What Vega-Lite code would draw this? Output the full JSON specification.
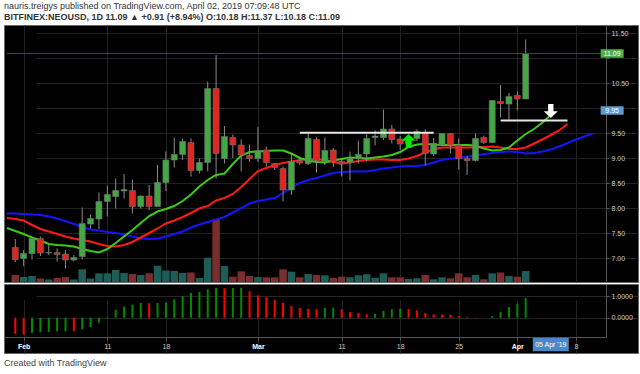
{
  "$schema": "https://vega.github.io/schema/vega-lite/v6.json",
  "background": "white",
  "padding": {"left": 3, "right": 3, "top": 1, "bottom": 0},
  "spacing": 0,
  "title": {
    "text": "nauris.treigys published on TradingView.com, April 02, 2019 07:09:48 UTC",
    "subtitle": "BITFINEX:NEOUSD, 1D  11.09 ▲ +0.91 (+8.94%) O:10.18 H:11.37 L:10.18 C:11.09",
    "anchor": "start",
    "frame": "group",
    "font": "Liberation Sans",
    "fontSize": 9,
    "fontWeight": "normal",
    "color": "#333333",
    "subtitleFont": "Liberation Sans",
    "subtitleFontSize": 9,
    "subtitleFontWeight": "bold",
    "subtitleColor": "#333333",
    "subtitlePadding": 2,
    "offset": 3
  },
  "config": {
    "view": {"fill": "black", "stroke": "#666666"},
    "axis": {"labelFont": "Liberation Sans", "labelOverlap": false}
  },
  "datasets": {
    "candles": [
      {"date": "2019-01-31", "open": 7.21, "high": 7.38, "low": 6.92, "close": 6.97, "volume": 140, "ao": -0.74},
      {"date": "2019-02-01", "open": 6.99, "high": 7.16, "low": 6.84, "close": 7.09, "volume": 100, "ao": -0.78},
      {"date": "2019-02-02", "open": 7.09, "high": 7.41, "low": 6.97, "close": 7.39, "volume": 120, "ao": -0.70},
      {"date": "2019-02-03", "open": 7.39, "high": 7.43, "low": 7.04, "close": 7.10, "volume": 70, "ao": -0.66},
      {"date": "2019-02-04", "open": 7.10, "high": 7.26, "low": 7.06, "close": 7.11, "volume": 50, "ao": -0.655},
      {"date": "2019-02-05", "open": 7.11, "high": 7.19, "low": 6.93, "close": 7.07, "volume": 80, "ao": -0.635},
      {"date": "2019-02-06", "open": 7.08, "high": 7.16, "low": 6.79, "close": 6.96, "volume": 100, "ao": -0.62},
      {"date": "2019-02-07", "open": 6.96, "high": 7.06, "low": 6.93, "close": 7.01, "volume": 50, "ao": -0.63},
      {"date": "2019-02-08", "open": 7.03, "high": 8.01, "low": 6.97, "close": 7.69, "volume": 254, "ao": -0.54},
      {"date": "2019-02-09", "open": 7.68, "high": 7.87, "low": 7.59, "close": 7.79, "volume": 70, "ao": -0.43},
      {"date": "2019-02-10", "open": 7.78, "high": 8.31, "low": 7.58, "close": 8.13, "volume": 174, "ao": -0.23},
      {"date": "2019-02-11", "open": 8.13, "high": 8.45, "low": 7.83, "close": 8.27, "volume": 174, "ao": 0.03},
      {"date": "2019-02-12", "open": 8.23, "high": 8.59, "low": 7.99, "close": 8.35, "volume": 240, "ao": 0.37},
      {"date": "2019-02-13", "open": 8.34, "high": 8.68, "low": 8.19, "close": 8.37, "volume": 180, "ao": 0.52},
      {"date": "2019-02-14", "open": 8.35, "high": 8.57, "low": 7.89, "close": 8.03, "volume": 160, "ao": 0.60},
      {"date": "2019-02-15", "open": 8.03, "high": 8.25, "low": 7.99, "close": 8.24, "volume": 140, "ao": 0.68},
      {"date": "2019-02-16", "open": 8.24, "high": 8.46, "low": 7.96, "close": 8.03, "volume": 174, "ao": 0.67},
      {"date": "2019-02-17", "open": 8.03, "high": 8.86, "low": 8.03, "close": 8.51, "volume": 326, "ao": 0.68},
      {"date": "2019-02-18", "open": 8.51, "high": 9.13, "low": 8.34, "close": 8.96, "volume": 230, "ao": 0.69},
      {"date": "2019-02-19", "open": 8.96, "high": 9.41, "low": 8.81, "close": 9.07, "volume": 220, "ao": 0.85},
      {"date": "2019-02-20", "open": 9.07, "high": 9.39, "low": 8.96, "close": 9.33, "volume": 180, "ao": 1.00},
      {"date": "2019-02-21", "open": 9.31, "high": 9.39, "low": 8.63, "close": 8.75, "volume": 190, "ao": 1.14},
      {"date": "2019-02-22", "open": 8.75, "high": 8.99, "low": 8.69, "close": 8.91, "volume": 80, "ao": 1.18},
      {"date": "2019-02-23", "open": 8.91, "high": 10.53, "low": 8.73, "close": 10.39, "volume": 486, "ao": 1.31},
      {"date": "2019-02-24", "open": 10.39, "high": 11.06, "low": 8.59, "close": 9.09, "volume": 1254, "ao": 1.38},
      {"date": "2019-02-25", "open": 8.99, "high": 9.64, "low": 8.89, "close": 9.43, "volume": 320, "ao": 1.36},
      {"date": "2019-02-26", "open": 9.41, "high": 9.47, "low": 9.00, "close": 9.26, "volume": 106, "ao": 1.37},
      {"date": "2019-02-27", "open": 9.26, "high": 9.37, "low": 8.73, "close": 9.06, "volume": 214, "ao": 1.38},
      {"date": "2019-02-28", "open": 9.05, "high": 9.27, "low": 8.92, "close": 8.99, "volume": 120, "ao": 1.22},
      {"date": "2019-03-01", "open": 8.99, "high": 9.62, "low": 8.92, "close": 9.15, "volume": 100, "ao": 1.03},
      {"date": "2019-03-02", "open": 9.16, "high": 9.23, "low": 8.83, "close": 8.91, "volume": 94, "ao": 0.95},
      {"date": "2019-03-03", "open": 8.89, "high": 8.90, "low": 8.76, "close": 8.81, "volume": 94, "ao": 0.83},
      {"date": "2019-03-04", "open": 8.79, "high": 8.83, "low": 8.13, "close": 8.36, "volume": 254, "ao": 0.69},
      {"date": "2019-03-05", "open": 8.36, "high": 9.09, "low": 8.26, "close": 8.93, "volume": 206, "ao": 0.54},
      {"date": "2019-03-06", "open": 8.95, "high": 9.03, "low": 8.86, "close": 8.90, "volume": 94, "ao": 0.45},
      {"date": "2019-03-07", "open": 8.89, "high": 9.49, "low": 8.86, "close": 9.39, "volume": 160, "ao": 0.40},
      {"date": "2019-03-08", "open": 9.37, "high": 9.41, "low": 8.71, "close": 8.95, "volume": 140, "ao": 0.39},
      {"date": "2019-03-09", "open": 8.93, "high": 9.41, "low": 8.86, "close": 9.15, "volume": 134, "ao": 0.45},
      {"date": "2019-03-10", "open": 9.16, "high": 9.20, "low": 8.82, "close": 8.93, "volume": 84, "ao": 0.46},
      {"date": "2019-03-11", "open": 8.93, "high": 8.96, "low": 8.63, "close": 8.88, "volume": 106, "ao": 0.39},
      {"date": "2019-03-12", "open": 8.91, "high": 9.13, "low": 8.55, "close": 8.99, "volume": 94, "ao": 0.26},
      {"date": "2019-03-13", "open": 8.99, "high": 9.35, "low": 8.89, "close": 9.07, "volume": 134, "ao": 0.22},
      {"date": "2019-03-14", "open": 9.08, "high": 9.47, "low": 8.93, "close": 9.39, "volume": 156, "ao": 0.16},
      {"date": "2019-03-15", "open": 9.41, "high": 9.55, "low": 9.25, "close": 9.44, "volume": 84, "ao": 0.18},
      {"date": "2019-03-16", "open": 9.41, "high": 9.97, "low": 9.36, "close": 9.58, "volume": 174, "ao": 0.31},
      {"date": "2019-03-17", "open": 9.58, "high": 9.66, "low": 9.29, "close": 9.37, "volume": 94, "ao": 0.39},
      {"date": "2019-03-18", "open": 9.38, "high": 9.44, "low": 9.16, "close": 9.28, "volume": 94, "ao": 0.41},
      {"date": "2019-03-19", "open": 9.28, "high": 9.45, "low": 9.20, "close": 9.36, "volume": 60, "ao": 0.39},
      {"date": "2019-03-20", "open": 9.39, "high": 9.57, "low": 9.34, "close": 9.53, "volume": 74, "ao": 0.34},
      {"date": "2019-03-21", "open": 9.49, "high": 9.57, "low": 8.86, "close": 9.09, "volume": 140, "ao": 0.22},
      {"date": "2019-03-22", "open": 9.08, "high": 9.40, "low": 9.04, "close": 9.29, "volume": 54, "ao": 0.16},
      {"date": "2019-03-23", "open": 9.26, "high": 9.50, "low": 9.24, "close": 9.49, "volume": 94, "ao": 0.14},
      {"date": "2019-03-24", "open": 9.49, "high": 9.50, "low": 9.09, "close": 9.26, "volume": 74, "ao": 0.13},
      {"date": "2019-03-25", "open": 9.26, "high": 9.39, "low": 8.77, "close": 8.99, "volume": 174, "ao": 0.08},
      {"date": "2019-03-26", "open": 8.99, "high": 9.04, "low": 8.66, "close": 8.95, "volume": 94, "ao": 0.03},
      {"date": "2019-03-27", "open": 8.95, "high": 9.49, "low": 8.93, "close": 9.39, "volume": 140, "ao": 0.01},
      {"date": "2019-03-28", "open": 9.41, "high": 9.45, "low": 9.28, "close": 9.31, "volume": 54, "ao": 0.0},
      {"date": "2019-03-29", "open": 9.31, "high": 10.16, "low": 9.30, "close": 10.15, "volume": 174, "ao": 0.08},
      {"date": "2019-03-30", "open": 10.13, "high": 10.46, "low": 9.81, "close": 10.09, "volume": 190, "ao": 0.26},
      {"date": "2019-03-31", "open": 10.08, "high": 10.30, "low": 9.76, "close": 10.23, "volume": 120, "ao": 0.49},
      {"date": "2019-04-01", "open": 10.25, "high": 10.33, "low": 9.95, "close": 10.18, "volume": 106, "ao": 0.65},
      {"date": "2019-04-02", "open": 10.18, "high": 11.37, "low": 10.18, "close": 11.09, "volume": 220, "ao": 0.91}
    ],
    "alligator": [
      {"date": "2019-01-30", "jaw": 7.89, "teeth": 7.80, "lips": 7.60},
      {"date": "2019-01-31", "jaw": 7.89, "teeth": 7.78, "lips": 7.54},
      {"date": "2019-02-01", "jaw": 7.88, "teeth": 7.75, "lips": 7.48},
      {"date": "2019-02-02", "jaw": 7.87, "teeth": 7.66, "lips": 7.41},
      {"date": "2019-02-03", "jaw": 7.86, "teeth": 7.58, "lips": 7.35},
      {"date": "2019-02-04", "jaw": 7.83, "teeth": 7.53, "lips": 7.28},
      {"date": "2019-02-05", "jaw": 7.79, "teeth": 7.48, "lips": 7.26},
      {"date": "2019-02-06", "jaw": 7.74, "teeth": 7.43, "lips": 7.25},
      {"date": "2019-02-07", "jaw": 7.68, "teeth": 7.39, "lips": 7.23},
      {"date": "2019-02-08", "jaw": 7.62, "teeth": 7.36, "lips": 7.18},
      {"date": "2019-02-09", "jaw": 7.57, "teeth": 7.33, "lips": 7.14},
      {"date": "2019-02-10", "jaw": 7.55, "teeth": 7.28, "lips": 7.11},
      {"date": "2019-02-11", "jaw": 7.52, "teeth": 7.24, "lips": 7.18},
      {"date": "2019-02-12", "jaw": 7.50, "teeth": 7.23, "lips": 7.30},
      {"date": "2019-02-13", "jaw": 7.47, "teeth": 7.26, "lips": 7.43},
      {"date": "2019-02-14", "jaw": 7.43, "teeth": 7.32, "lips": 7.56},
      {"date": "2019-02-15", "jaw": 7.39, "teeth": 7.41, "lips": 7.70},
      {"date": "2019-02-16", "jaw": 7.38, "teeth": 7.50, "lips": 7.84},
      {"date": "2019-02-17", "jaw": 7.39, "teeth": 7.59, "lips": 7.93},
      {"date": "2019-02-18", "jaw": 7.43, "teeth": 7.69, "lips": 7.98},
      {"date": "2019-02-19", "jaw": 7.48, "teeth": 7.75, "lips": 8.04},
      {"date": "2019-02-20", "jaw": 7.53, "teeth": 7.82, "lips": 8.14},
      {"date": "2019-02-21", "jaw": 7.61, "teeth": 7.90, "lips": 8.27},
      {"date": "2019-02-22", "jaw": 7.67, "teeth": 7.99, "lips": 8.43},
      {"date": "2019-02-23", "jaw": 7.72, "teeth": 8.04, "lips": 8.56},
      {"date": "2019-02-24", "jaw": 7.77, "teeth": 8.15, "lips": 8.66},
      {"date": "2019-02-25", "jaw": 7.82, "teeth": 8.20, "lips": 8.69},
      {"date": "2019-02-26", "jaw": 7.91, "teeth": 8.28, "lips": 8.88},
      {"date": "2019-02-27", "jaw": 8.00, "teeth": 8.42, "lips": 9.05},
      {"date": "2019-02-28", "jaw": 8.09, "teeth": 8.58, "lips": 9.12},
      {"date": "2019-03-01", "jaw": 8.14, "teeth": 8.74, "lips": 9.13},
      {"date": "2019-03-02", "jaw": 8.17, "teeth": 8.80, "lips": 9.14},
      {"date": "2019-03-03", "jaw": 8.20, "teeth": 8.86, "lips": 9.15},
      {"date": "2019-03-04", "jaw": 8.30, "teeth": 8.90, "lips": 9.15},
      {"date": "2019-03-05", "jaw": 8.40, "teeth": 8.93, "lips": 9.09},
      {"date": "2019-03-06", "jaw": 8.50, "teeth": 8.96, "lips": 9.00},
      {"date": "2019-03-07", "jaw": 8.56, "teeth": 8.98, "lips": 8.95},
      {"date": "2019-03-08", "jaw": 8.60, "teeth": 8.97, "lips": 8.92},
      {"date": "2019-03-09", "jaw": 8.65, "teeth": 8.96, "lips": 8.91},
      {"date": "2019-03-10", "jaw": 8.70, "teeth": 8.92, "lips": 8.95},
      {"date": "2019-03-11", "jaw": 8.72, "teeth": 8.89, "lips": 8.98},
      {"date": "2019-03-12", "jaw": 8.73, "teeth": 8.91, "lips": 9.01},
      {"date": "2019-03-13", "jaw": 8.73, "teeth": 8.94, "lips": 9.00},
      {"date": "2019-03-14", "jaw": 8.73, "teeth": 8.96, "lips": 8.99},
      {"date": "2019-03-15", "jaw": 8.76, "teeth": 8.97, "lips": 9.01},
      {"date": "2019-03-16", "jaw": 8.79, "teeth": 8.97, "lips": 9.03},
      {"date": "2019-03-17", "jaw": 8.81, "teeth": 8.96, "lips": 9.06},
      {"date": "2019-03-18", "jaw": 8.83, "teeth": 8.96, "lips": 9.12},
      {"date": "2019-03-19", "jaw": 8.84, "teeth": 8.99, "lips": 9.22},
      {"date": "2019-03-20", "jaw": 8.84, "teeth": 9.04, "lips": 9.27},
      {"date": "2019-03-21", "jaw": 8.86, "teeth": 9.12, "lips": 9.28},
      {"date": "2019-03-22", "jaw": 8.91, "teeth": 9.17, "lips": 9.27},
      {"date": "2019-03-23", "jaw": 8.96, "teeth": 9.21, "lips": 9.26},
      {"date": "2019-03-24", "jaw": 8.99, "teeth": 9.21, "lips": 9.26},
      {"date": "2019-03-25", "jaw": 9.00, "teeth": 9.21, "lips": 9.26},
      {"date": "2019-03-26", "jaw": 9.03, "teeth": 9.21, "lips": 9.26},
      {"date": "2019-03-27", "jaw": 9.05, "teeth": 9.21, "lips": 9.25},
      {"date": "2019-03-28", "jaw": 9.08, "teeth": 9.22, "lips": 9.19},
      {"date": "2019-03-29", "jaw": 9.10, "teeth": 9.23, "lips": 9.15},
      {"date": "2019-03-30", "jaw": 9.12, "teeth": 9.21, "lips": 9.16},
      {"date": "2019-03-31", "jaw": 9.13, "teeth": 9.18, "lips": 9.21},
      {"date": "2019-04-01", "jaw": 9.12, "teeth": 9.18, "lips": 9.35},
      {"date": "2019-04-02", "jaw": 9.09, "teeth": 9.21, "lips": 9.48},
      {"date": "2019-04-03", "jaw": 9.10, "teeth": 9.29, "lips": 9.58},
      {"date": "2019-04-04", "jaw": 9.13, "teeth": 9.37, "lips": 9.71},
      {"date": "2019-04-05", "jaw": 9.17, "teeth": 9.46, "lips": 9.86},
      {"date": "2019-04-06", "jaw": 9.23, "teeth": 9.55, "lips": null},
      {"date": "2019-04-07", "jaw": 9.30, "teeth": 9.68, "lips": null},
      {"date": "2019-04-08", "jaw": 9.37, "teeth": null, "lips": null},
      {"date": "2019-04-09", "jaw": 9.43, "teeth": null, "lips": null},
      {"date": "2019-04-10", "jaw": 9.49, "teeth": null, "lips": null}
    ],
    "levels": [
      {"start": "2019-01-30", "end": "2019-04-11", "level": 11.09, "kind": "last"},
      {"start": "2019-03-06", "end": "2019-03-22", "level": 9.505, "kind": "resistance"},
      {"start": "2019-03-30", "end": "2019-04-07", "level": 9.75, "kind": "resistance"}
    ],
    "signals": [
      {"date": "2019-03-19", "price": 9.34, "signal": "buy"},
      {"date": "2019-04-05", "price": 9.94, "signal": "sell"}
    ],
    "tags": [
      {"price": 11.09, "label": "11.09", "kind": "last"},
      {"price": 9.95, "label": "9.95", "kind": "level"}
    ],
    "cursor": [
      {"date": "2019-04-05", "label": "05 Apr '19"}
    ]
  },
  "vconcat": [
    {
      "width": 634,
      "height": 257,
      "resolve": {"scale": {"y": "independent"}},
      "layer": [
        {
          "data": {"name": "candles"},
          "mark": {"type": "bar", "width": 7.5},
          "encoding": {
            "x": {"field": "date", "type": "temporal",
              "scale": {"type": "utc", "domain": [{"year": 2019, "month": 1, "date": 30, "hours": 6, "utc": true}, {"year": 2019, "month": 4, "date": 11, "utc": true}], "range": [0, 602]},
              "axis": {"values": [{"year": 2019, "month": 2, "date": 1, "utc": true}, {"year": 2019, "month": 2, "date": 11, "utc": true}, {"year": 2019, "month": 2, "date": 18, "utc": true}, {"year": 2019, "month": 3, "date": 1, "utc": true}, {"year": 2019, "month": 3, "date": 11, "utc": true}, {"year": 2019, "month": 3, "date": 18, "utc": true}, {"year": 2019, "month": 3, "date": 25, "utc": true}, {"year": 2019, "month": 4, "date": 1, "utc": true}, {"year": 2019, "month": 4, "date": 8, "utc": true}],
                "grid": true, "gridColor": "#222222", "labels": false, "ticks": false, "domain": false, "title": null}},
            "y": {"field": "volume", "type": "quantitative", "scale": {"domain": [0, 5140], "nice": false, "zero": true}, "axis": null},
            "y2": {"datum": 0},
            "color": {"condition": {"test": "datum.close >= datum.open", "value": "#1e5c57"}, "value": "#7b2e2e"}
          }
        },
        {
          "layer": [
            {
              "data": {"name": "alligator"},
              "mark": {"type": "line", "color": "#1414ff", "strokeWidth": 2, "clip": true},
              "encoding": {
                "x": {"field": "date", "type": "temporal", "scale": {"type": "utc", "domain": [{"year": 2019, "month": 1, "date": 30, "hours": 6, "utc": true}, {"year": 2019, "month": 4, "date": 11, "utc": true}], "range": [0, 602]}},
                "y": {"field": "jaw", "type": "quantitative", "scale": {"domain": [6.52, 11.66], "nice": false, "zero": false},
                  "axis": {"orient": "right", "offset": -32, "values": [7, 7.5, 8, 8.5, 9, 9.5, 10, 10.5, 11, 11.5], "labelExpr": "datum.value == 10 || datum.value == 11 ? '' : format(datum.value, '.2f')", "labelOverlap": false, "grid": true, "gridColor": "#222222", "domainColor": "#555555", "tickColor": "#555555", "tickSize": 3, "labelColor": "#cccccc", "labelFontSize": 7, "labelPadding": 2, "title": null}}
              }
            },
            {
              "data": {"name": "alligator"},
              "mark": {"type": "line", "color": "#ff1a1a", "strokeWidth": 2, "clip": true},
              "encoding": {
                "x": {"field": "date", "type": "temporal", "scale": {"type": "utc", "domain": [{"year": 2019, "month": 1, "date": 30, "hours": 6, "utc": true}, {"year": 2019, "month": 4, "date": 11, "utc": true}], "range": [0, 602]}},
                "y": {"field": "teeth", "type": "quantitative", "scale": {"domain": [6.52, 11.66], "nice": false, "zero": false},
                  "axis": {"orient": "right", "offset": -32, "values": [7, 7.5, 8, 8.5, 9, 9.5, 10, 10.5, 11, 11.5], "labelExpr": "datum.value == 10 || datum.value == 11 ? '' : format(datum.value, '.2f')", "labelOverlap": false, "grid": true, "gridColor": "#222222", "domainColor": "#555555", "tickColor": "#555555", "tickSize": 3, "labelColor": "#cccccc", "labelFontSize": 7, "labelPadding": 2, "title": null}}
              }
            },
            {
              "data": {"name": "alligator"},
              "mark": {"type": "line", "color": "#3ccc14", "strokeWidth": 2, "clip": true},
              "encoding": {
                "x": {"field": "date", "type": "temporal", "scale": {"type": "utc", "domain": [{"year": 2019, "month": 1, "date": 30, "hours": 6, "utc": true}, {"year": 2019, "month": 4, "date": 11, "utc": true}], "range": [0, 602]}},
                "y": {"field": "lips", "type": "quantitative", "scale": {"domain": [6.52, 11.66], "nice": false, "zero": false},
                  "axis": {"orient": "right", "offset": -32, "values": [7, 7.5, 8, 8.5, 9, 9.5, 10, 10.5, 11, 11.5], "labelExpr": "datum.value == 10 || datum.value == 11 ? '' : format(datum.value, '.2f')", "labelOverlap": false, "grid": true, "gridColor": "#222222", "domainColor": "#555555", "tickColor": "#555555", "tickSize": 3, "labelColor": "#cccccc", "labelFontSize": 7, "labelPadding": 2, "title": null}}
              }
            },
            {
              "data": {"name": "candles"},
              "mark": {"type": "rule", "color": "#8c8c8c", "strokeWidth": 1},
              "encoding": {
                "x": {"field": "date", "type": "temporal", "scale": {"type": "utc", "domain": [{"year": 2019, "month": 1, "date": 30, "hours": 6, "utc": true}, {"year": 2019, "month": 4, "date": 11, "utc": true}], "range": [0, 602]}},
                "y": {"field": "low", "type": "quantitative", "scale": {"domain": [6.52, 11.66], "nice": false, "zero": false},
                  "axis": {"orient": "right", "offset": -32, "values": [7, 7.5, 8, 8.5, 9, 9.5, 10, 10.5, 11, 11.5], "labelExpr": "datum.value == 10 || datum.value == 11 ? '' : format(datum.value, '.2f')", "labelOverlap": false, "grid": true, "gridColor": "#222222", "domainColor": "#555555", "tickColor": "#555555", "tickSize": 3, "labelColor": "#cccccc", "labelFontSize": 7, "labelPadding": 2, "title": null}},
                "y2": {"field": "high"}
              }
            },
            {
              "data": {"name": "candles"},
              "mark": {"type": "bar", "width": 6, "stroke": "#707070", "strokeWidth": 0.6},
              "encoding": {
                "x": {"field": "date", "type": "temporal", "scale": {"type": "utc", "domain": [{"year": 2019, "month": 1, "date": 30, "hours": 6, "utc": true}, {"year": 2019, "month": 4, "date": 11, "utc": true}], "range": [0, 602]}},
                "y": {"field": "open", "type": "quantitative", "scale": {"domain": [6.52, 11.66], "nice": false, "zero": false},
                  "axis": {"orient": "right", "offset": -32, "values": [7, 7.5, 8, 8.5, 9, 9.5, 10, 10.5, 11, 11.5], "labelExpr": "datum.value == 10 || datum.value == 11 ? '' : format(datum.value, '.2f')", "labelOverlap": false, "grid": true, "gridColor": "#222222", "domainColor": "#555555", "tickColor": "#555555", "tickSize": 3, "labelColor": "#cccccc", "labelFontSize": 7, "labelPadding": 2, "title": null}},
                "y2": {"field": "close"},
                "color": {"condition": {"test": "datum.close >= datum.open", "value": "#43a843"}, "value": "#e0261f"}
              }
            },
            {
              "data": {"name": "levels"},
              "mark": {"type": "rule", "clip": true},
              "encoding": {
                "x": {"field": "start", "type": "temporal", "scale": {"type": "utc", "domain": [{"year": 2019, "month": 1, "date": 30, "hours": 6, "utc": true}, {"year": 2019, "month": 4, "date": 11, "utc": true}], "range": [0, 602]}},
                "x2": {"field": "end"},
                "y": {"field": "level", "type": "quantitative", "scale": {"domain": [6.52, 11.66], "nice": false, "zero": false},
                  "axis": {"orient": "right", "offset": -32, "values": [7, 7.5, 8, 8.5, 9, 9.5, 10, 10.5, 11, 11.5], "labelExpr": "datum.value == 10 || datum.value == 11 ? '' : format(datum.value, '.2f')", "labelOverlap": false, "grid": true, "gridColor": "#222222", "domainColor": "#555555", "tickColor": "#555555", "tickSize": 3, "labelColor": "#cccccc", "labelFontSize": 7, "labelPadding": 2, "title": null}},
                "color": {"condition": {"test": "datum.kind == 'last'", "value": "#1f5a1f"}, "value": "#e6e6e6"},
                "strokeWidth": {"condition": {"test": "datum.kind == 'last'", "value": 1}, "value": 2}
              }
            },
            {
              "data": {"name": "signals"},
              "mark": {"type": "point", "filled": true, "size": 200, "strokeWidth": 0, "opacity": 1},
              "encoding": {
                "x": {"field": "date", "type": "temporal", "scale": {"type": "utc", "domain": [{"year": 2019, "month": 1, "date": 30, "hours": 6, "utc": true}, {"year": 2019, "month": 4, "date": 11, "utc": true}], "range": [0, 602]}},
                "y": {"field": "price", "type": "quantitative", "scale": {"domain": [6.52, 11.66], "nice": false, "zero": false},
                  "axis": {"orient": "right", "offset": -32, "values": [7, 7.5, 8, 8.5, 9, 9.5, 10, 10.5, 11, 11.5], "labelExpr": "datum.value == 10 || datum.value == 11 ? '' : format(datum.value, '.2f')", "labelOverlap": false, "grid": true, "gridColor": "#222222", "domainColor": "#555555", "tickColor": "#555555", "tickSize": 3, "labelColor": "#cccccc", "labelFontSize": 7, "labelPadding": 2, "title": null}},
                "shape": {"condition": {"test": "datum.signal == 'buy'", "value": "M0,-1L1,-0.05L0.38,-0.05L0.38,1L-0.38,1L-0.38,-0.05L-1,-0.05Z"}, "value": "M0,1L1,0.05L0.38,0.05L0.38,-1L-0.38,-1L-0.38,0.05L-1,0.05Z"},
                "color": {"condition": {"test": "datum.signal == 'buy'", "value": "#00e600"}, "value": "#ffffff"}
              }
            },
            {
              "data": {"name": "tags"},
              "mark": {"type": "point", "filled": true, "size": 529, "strokeWidth": 0, "opacity": 1, "shape": "M-1,-0.37L1,-0.37L1,0.37L-1,0.37Z"},
              "encoding": {
                "x": {"datum": {"year": 2019, "month": 4, "date": 12, "hours": 8, "utc": true}, "type": "temporal", "scale": {"type": "utc", "domain": [{"year": 2019, "month": 1, "date": 30, "hours": 6, "utc": true}, {"year": 2019, "month": 4, "date": 11, "utc": true}], "range": [0, 602]}},
                "y": {"field": "price", "type": "quantitative", "scale": {"domain": [6.52, 11.66], "nice": false, "zero": false},
                  "axis": {"orient": "right", "offset": -32, "values": [7, 7.5, 8, 8.5, 9, 9.5, 10, 10.5, 11, 11.5], "labelExpr": "datum.value == 10 || datum.value == 11 ? '' : format(datum.value, '.2f')", "labelOverlap": false, "grid": true, "gridColor": "#222222", "domainColor": "#555555", "tickColor": "#555555", "tickSize": 3, "labelColor": "#cccccc", "labelFontSize": 7, "labelPadding": 2, "title": null}},
                "color": {"condition": {"test": "datum.kind == 'last'", "value": "#4caf50"}, "value": "#5b9bd5"}
              }
            },
            {
              "data": {"name": "tags"},
              "mark": {"type": "text", "color": "white", "fontSize": 7, "font": "Liberation Sans", "align": "center", "baseline": "middle"},
              "encoding": {
                "x": {"datum": {"year": 2019, "month": 4, "date": 12, "hours": 8, "utc": true}, "type": "temporal", "scale": {"type": "utc", "domain": [{"year": 2019, "month": 1, "date": 30, "hours": 6, "utc": true}, {"year": 2019, "month": 4, "date": 11, "utc": true}], "range": [0, 602]}},
                "y": {"field": "price", "type": "quantitative", "scale": {"domain": [6.52, 11.66], "nice": false, "zero": false},
                  "axis": {"orient": "right", "offset": -32, "values": [7, 7.5, 8, 8.5, 9, 9.5, 10, 10.5, 11, 11.5], "labelExpr": "datum.value == 10 || datum.value == 11 ? '' : format(datum.value, '.2f')", "labelOverlap": false, "grid": true, "gridColor": "#222222", "domainColor": "#555555", "tickColor": "#555555", "tickSize": 3, "labelColor": "#cccccc", "labelFontSize": 7, "labelPadding": 2, "title": null}},
                "text": {"field": "label"}
              }
            }
          ]
        }
      ]
    },
    {
      "width": 634,
      "height": 69,
      "title": {"text": "Created with TradingView", "orient": "bottom", "anchor": "start", "font": "Liberation Sans", "fontSize": 9, "fontWeight": "normal", "color": "#444444", "offset": 6},
      "layer": [
        {
          "data": {"name": "candles"},
          "transform": [{"window": [{"op": "lag", "field": "ao", "as": "prev"}], "sort": [{"field": "date", "order": "ascending"}]}],
          "mark": {"type": "bar", "width": 2},
          "encoding": {
            "x": {"field": "date", "type": "temporal",
              "scale": {"type": "utc", "domain": [{"year": 2019, "month": 1, "date": 30, "hours": 6, "utc": true}, {"year": 2019, "month": 4, "date": 11, "utc": true}], "range": [0, 602]},
              "axis": {"orient": "bottom", "offset": -16, "values": [{"year": 2019, "month": 2, "date": 1, "utc": true}, {"year": 2019, "month": 2, "date": 11, "utc": true}, {"year": 2019, "month": 2, "date": 18, "utc": true}, {"year": 2019, "month": 3, "date": 1, "utc": true}, {"year": 2019, "month": 3, "date": 11, "utc": true}, {"year": 2019, "month": 3, "date": 18, "utc": true}, {"year": 2019, "month": 3, "date": 25, "utc": true}, {"year": 2019, "month": 4, "date": 1, "utc": true}, {"year": 2019, "month": 4, "date": 8, "utc": true}],
                "labelExpr": "utcdate(datum.value) == 1 ? utcFormat(datum.value, '%b') : utcFormat(datum.value, '%-d')",
                "grid": true, "gridColor": "#222222", "domainColor": "#555555", "tickColor": "#555555", "tickSize": 3,
                "labelFontSize": 7, "labelPadding": 2, "labelFlush": false, "labelOverlap": false,
                "labelColor": {"condition": {"test": "utcdate(datum.value) == 1", "value": "#ffffff"}, "value": "#cccccc"},
                "labelFontWeight": {"condition": {"test": "utcdate(datum.value) == 1", "value": "bold"}, "value": "normal"},
                "title": null}},
            "y": {"field": "ao", "type": "quantitative", "scale": {"domain": [-0.889, 1.553], "range": [53, 0], "nice": false, "zero": false},
              "axis": {"orient": "right", "offset": -32, "values": [0, 1], "format": ".4f", "labelOverlap": false, "grid": true, "gridColor": "#262626", "domainColor": "#555555", "tickColor": "#555555", "tickSize": 3, "labelColor": "#cccccc", "labelFontSize": 7, "labelPadding": 2, "title": null}},
            "y2": {"datum": 0},
            "color": {"condition": {"test": "datum.ao >= datum.prev", "value": "#008a00"}, "value": "#ff0000"}
          }
        },
        {
          "data": {"name": "cursor"},
          "mark": {"type": "point", "filled": true, "size": 1296, "strokeWidth": 0, "opacity": 1, "color": "#4a88c6", "shape": "M-1,-0.37L1,-0.37L1,0.37L-1,0.37Z"},
          "encoding": {
            "x": {"field": "date", "type": "temporal", "scale": {"type": "utc", "domain": [{"year": 2019, "month": 1, "date": 30, "hours": 6, "utc": true}, {"year": 2019, "month": 4, "date": 11, "utc": true}], "range": [0, 602]}},
            "y": {"datum": -1.244, "type": "quantitative", "scale": {"domain": [-0.889, 1.553], "range": [53, 0], "nice": false, "zero": false}}
          }
        },
        {
          "data": {"name": "cursor"},
          "mark": {"type": "text", "color": "white", "fontSize": 7, "font": "Liberation Sans", "align": "center", "baseline": "middle"},
          "encoding": {
            "x": {"field": "date", "type": "temporal", "scale": {"type": "utc", "domain": [{"year": 2019, "month": 1, "date": 30, "hours": 6, "utc": true}, {"year": 2019, "month": 4, "date": 11, "utc": true}], "range": [0, 602]}},
            "y": {"datum": -1.244, "type": "quantitative", "scale": {"domain": [-0.889, 1.553], "range": [53, 0], "nice": false, "zero": false}},
            "text": {"field": "label"}
          }
        }
      ]
    }
  ]
}
